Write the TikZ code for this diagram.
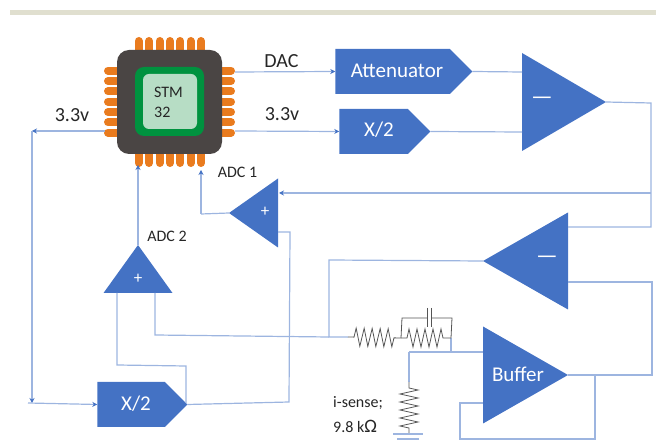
\documentclass[tikz,border=0pt]{standalone}
\usepackage{fontspec}
\setmainfont{Carlito}
\usetikzlibrary{arrows.meta, shapes.geometric, shapes.symbols, decorations.pathmorphing}
\definecolor{blockblue}{HTML}{4472C4}
\definecolor{wireblue}{HTML}{9DB5E0}
\definecolor{pinorange}{HTML}{E97B1E}
\definecolor{chipgray}{HTML}{4A4544}
\definecolor{chipgreen}{HTML}{00923F}
\definecolor{chippale}{HTML}{B7DDC5}
\definecolor{barbeige}{HTML}{E0DFCF}
\definecolor{resgray}{HTML}{555555}

\begin{document}
\begin{tikzpicture}[
    x=1pt, y=-1pt,
    ampnode/.style={isosceles triangle, isosceles triangle stretches, fill=blockblue,
                    inner sep=0pt, outer sep=0pt},
    sigblock/.style={signal, signal to=east, signal pointer angle=90, fill=blockblue,
                     inner sep=0pt, outer sep=0pt, text=white},
    ampsign/.style={text=white, inner sep=0pt, font=\fontsize{21}{23}\selectfont},
    dashsign/.style={text=white, inner sep=0pt, font=\fontsize{24}{26}\selectfont},
    plussign/.style={text=white, inner sep=0pt, font=\fontsize{17}{18}\selectfont},
    lbl/.style={inner sep=0pt, text=black!85, font=\fontsize{20}{22}\selectfont},
    smalllbl/.style={inner sep=0pt, text=black!85, font=\fontsize{16}{18}\selectfont},
    wire/.style={wireblue, line width=1.2pt},
    darrow/.style={wire, -{Stealth[length=5pt, width=5pt, color=blockblue]}},
    pinline/.style={pinorange, line width=8pt, line cap=round},
    resistor/.style={resgray, line width=0.8pt, decorate,
                     decoration={zigzag, segment length=8pt, amplitude=9pt,
                                 pre length=6pt, post length=5pt}}
]
\useasboundingbox (0,0) rectangle (656,443);

% top rule
\fill[barbeige] (10,10) rectangle (656,15);

% --- chip ---
\foreach \p in {138.7,149,159.7,170,180.3,190.7,201} {
    \draw[pinline] (\p,41) -- (\p,53);
    \draw[pinline] (\p,150) -- (\p,163);
}
\foreach \p in {70.7,81,91.3,101.7,112,122.3,132.7} {
    \draw[pinline] (108,\p) -- (122,\p);
    \draw[pinline] (218,\p) -- (231,\p);
}
\node[fill=chipgray, rounded corners=12pt, minimum width=105pt, minimum height=104pt,
      inner sep=0pt] (chip) at (169.5,102) {};
\node[fill=chipgreen, rounded corners=9pt, minimum width=69pt, minimum height=69pt,
      inner sep=0pt] (chipring) at (169.5,101.5) {};
\node[fill=chippale, rounded corners=6pt, minimum width=54pt, minimum height=55pt,
      inner sep=0pt] (chipcore) at (170,101.5) {};
\node[smalllbl, anchor=west] (stm) at (154,92) {STM};
\node[smalllbl, anchor=west] (stmb) at (154,112) {32};

% --- blocks ---
\node[sigblock, minimum width=137pt, minimum height=45pt] (attn) at (392.5,71.5) {};
\node[ampsign] (attntxt) at (397,71) {Attenuator};
\node[sigblock, minimum width=91pt, minimum height=45pt] (halfa) at (373.5,131.5) {};
\node[ampsign] (halfatxt) at (379,130) {X/2};
\node[sigblock, minimum width=90pt, minimum height=45pt] (halfb) at (131,404.5) {};
\node[ampsign] (halfbtxt) at (136,404) {X/2};

% --- amplifiers ---
\node[ampnode, minimum height=84pt, minimum width=98pt, anchor=apex] (ampa) at (606,102) {};
\node[dashsign] (ampatxt) at (542,101) {---};
\node[ampnode, shape border rotate=180, minimum height=85pt, minimum width=97pt, anchor=apex] (ampb) at (483,261) {};
\node[dashsign] (ampbtxt) at (547,260) {---};
\node[ampnode, minimum height=85pt, minimum width=97pt, anchor=apex] (buff) at (568,375) {};
\node[ampsign] (bufftxt) at (518,374) {Buffer};
\node[ampnode, shape border rotate=180, minimum height=49pt, minimum width=69pt, anchor=apex] (adca) at (229,213) {};
\node[plussign] (adcatxt) at (265,212) {+};
\node[ampnode, shape border rotate=90, minimum height=48pt, minimum width=69pt, anchor=apex] (adcb) at (138,245) {};
\node[plussign] (adcbtxt) at (138,279) {+};

% --- labels ---
\node[lbl] (dac) at (281.5,61) {DAC};
\node[lbl] (vr) at (282,114) {3.3v};
\node[lbl] (vl) at (72,115) {3.3v};
\node[smalllbl] (adcal) at (237.5,172) {ADC 1};
\node[smalllbl] (adcbl) at (167,236) {ADC 2};
\node[smalllbl, anchor=west] (sense) at (333,403) {i-sense;};
\node[smalllbl, anchor=west] (ohm) at (333,426) {9.8 k{\fontsize{19}{20}\selectfont Ω}};

% --- ports ---
\coordinate (dacout) at (235,72);
\coordinate (vrout) at (235,131);
\coordinate (vlout) at (105,131);
\coordinate (buslft) at (32,131);
\coordinate (bustip) at (32,403);
\coordinate (busin) at (28,403);
\coordinate (adcaout) at (201,214);
\coordinate (adcatip) at (201,170);
\coordinate (adcbtip) at (138,165);
\coordinate (ampain) at (522,72);
\coordinate (ampaim) at (522,132);
\coordinate (ampbr) at (568,227);
\coordinate (ampbs) at (568,282);
\coordinate (corna) at (651,103);
\coordinate (cornb) at (651,227);
\coordinate (cornc) at (651,193);
\coordinate (adcain) at (279,193);
\coordinate (adcalo) at (278,232);
\coordinate (adcbinl) at (117,293);
\coordinate (adcbinr) at (155,293);
\coordinate (rstart) at (348,337);
\coordinate (rmid) at (401,338);
\coordinate (rend) at (451,338);
\coordinate (fbnode) at (329,337);
\coordinate (bufin) at (483,352);
\coordinate (bufbk) at (483,403);
\coordinate (bufout) at (595,375);
\coordinate (rtop) at (409,382);
\coordinate (rbot) at (409,433);

% --- connectors ---
\draw[darrow] (dacout) -- (attn.west);
\draw[darrow] (vrout) -- (halfa.west);
\draw[wire] (attn.east) -- (ampain);
\draw[wire] (halfa.east) -- (ampaim);
\draw[darrow] (vlout) -- (buslft);
\draw[darrow] (buslft) -- (bustip);
\draw[darrow] (busin) -- (halfb.west);
\draw[wire] (ampa.apex) -- (corna) -- (cornb) -- (ampbr);
\draw[darrow] (cornc) -- (adcain);
\draw[wire] (ampbs) -- (652,282) -- (652,375) -- (buff.apex);
\draw[wire] (bufout) -- (595,439) -- (460,439) -- (460,403) -- (bufbk);
\draw[wire] (ampb.apex) -- (329,260) -- (fbnode) -- (rstart);
\draw[wire] (fbnode) -- (155,335) -- (adcbinr);
\draw[darrow] (adcb.apex) -- (adcbtip);
\draw[wire] (adcbinl) -- (117,365) -- (186,366) -- (186,403);
\draw[wire] (halfb.east) -- (289,402) -- (290,232) -- (adcalo);
\draw[wire] (adca.apex) -- (adcaout);
\draw[darrow] (adcaout) -- (adcatip);
\draw[wire] (rend) -- (451,352);
\draw[wire] (409,352) -- (bufin);
\draw[wire] (409,352) -- (rtop);

% --- sense network ---
\draw[resistor] (rstart) -- (rmid);
\draw[resistor] (rmid) -- (rend);
\draw[resistor] (rtop) -- (rbot);
\draw[resgray, line width=0.8pt] (rmid) -- (402,318) -- (427,318);
\draw[resgray, line width=0.8pt] (427,308) -- (427,327);
\draw[resgray, line width=0.8pt] (431,308) -- (431,327);
\draw[resgray, line width=0.8pt] (431,318) -- (452,318) -- (rend);
\draw[wire] (393,434) -- (423,434);
\draw[wire] (397,439) -- (419,439);

\end{tikzpicture}
\end{document}
